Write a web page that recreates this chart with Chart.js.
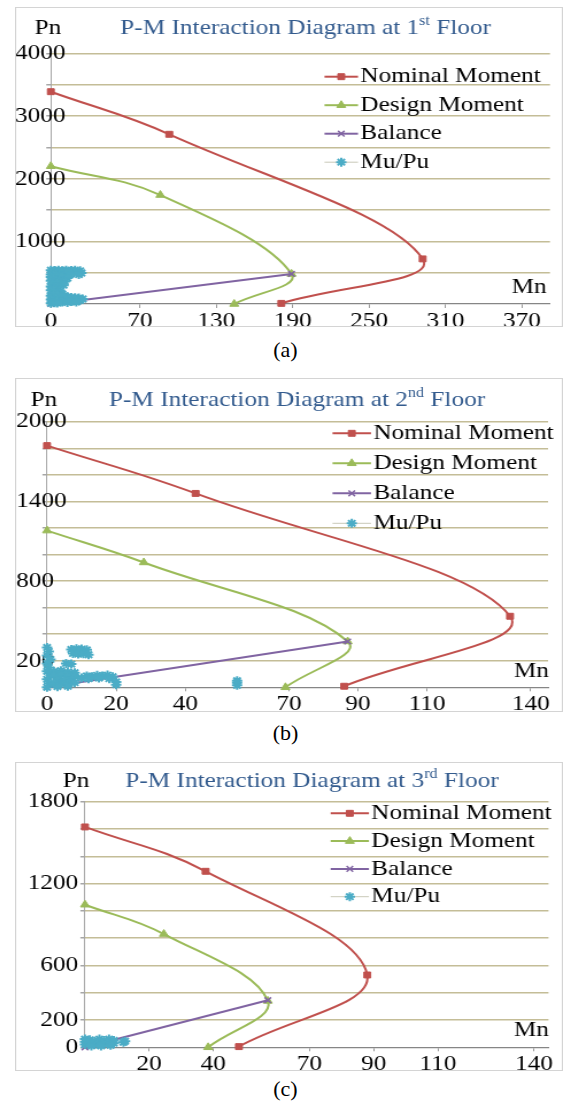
<!DOCTYPE html>
<html>
<head>
<meta charset="utf-8">
<script src="https://cdn.jsdelivr.net/npm/chart.js@4.4.1/dist/chart.umd.min.js"></script>
<style>
  html, body { margin: 0; padding: 0; background: #fff; }
  body { width: 571px; height: 1104px; position: relative; overflow: hidden;
         font-family: 'Liberation Serif', 'Times New Roman', serif; }
  canvas { position: absolute; left: 15px; transform-origin: 0 0; transform: scaleX(1.1488); }
  .cap { position: absolute; left: 0; width: 571px; text-align: center;
         font-size: 22px; line-height: 24px; color: #000; }
</style>
</head>
<body>
<canvas id="chartA" width="477" height="320" style="top:7px;width:477px;height:320px"></canvas>
<div class="cap" style="top:338px">(a)</div>
<canvas id="chartB" width="477" height="334" style="top:378px;width:477px;height:334px"></canvas>
<div class="cap" style="top:721px">(b)</div>
<canvas id="chartC" width="477" height="309" style="top:762px;width:477px;height:309px"></canvas>
<div class="cap" style="top:1077px">(c)</div>

<script>
// ---------------- DATA ----------------
const seriesNames = ['Nominal Moment', 'Design Moment', 'Balance', 'Mu/Pu'];

// (a) 1st floor
const titleA = ['P-M Interaction Diagram at 1', 'st', ' Floor'];
const xTickLabelsA = ['0', '70', '130', '190', '250', '310', '370'];
const yTickLabelsA = ['1000', '2000', '3000', '4000'];
const nominalMnA = [0, 93, 292, 181];
const nominalPnA = [3390, 2710, 720, 10];
const designMnA = [0, 86, 189, 144];
const designPnA = [2200, 1740, 480, 0];
const balanceMnA = [0, 189];
const balancePnA = [0, 480];
const muA = [0, 3, 6, 9, 12, 16, 19, 23, 1, 5, 8, 11, 14, 18, 21, 24, 0, 4, 7, 15, 22,
             0, 2, 0, 3, 1, 0, 2, 0, 3, 1, 0, 2, 0, 1, 0, 3,
             9, 13, 7, 11, 6, 10,
             5, 4, 7, 5, 9, 6, 11, 8, 13, 16, 19, 22, 25, 23, 19, 14, 10, 6, 9, 13, 5, 16, 20];
const puA = [540, 535, 540, 530, 540, 535, 540, 530, 505, 500, 510, 500, 505, 500, 505, 495, 470, 475, 465, 470, 470,
             430, 400, 370, 340, 310, 280, 250, 220, 190, 160, 130, 100, 70, 40, 10, 20,
             420, 415, 385, 360, 330, 300,
             270, 235, 210, 180, 160, 140, 130, 110, 115, 105, 100, 95, 80, 60, 55, 60, 70, 50, 30, 25, 15, 40, 30];

// (b) 2nd floor
const titleB = ['P-M Interaction Diagram at 2', 'nd', ' Floor'];
const xTickLabelsB = ['0', '20', '40', '70', '90', '110', '140'];
const yTickLabelsB = ['200', '800', '1400', '2000'];
const nominalMnB = [0, 43, 134, 86];
const nominalPnB = [1820, 1460, 535, 8];
const designMnB = [0, 28, 87, 69];
const designPnB = [1180, 940, 345, 0];
const balanceMnB = [0, 87];
const balancePnB = [0, 345];
const muB = [0, 0.5, 0, 1, 0, 0.5, 0, 1, 0, 0.5, 0,
             2, 4, 6, 8, 2, 4, 6, 8, 3, 5, 7, 2, 4, 6, 8, 3, 6,
             7, 8.5, 10, 11.5, 7.5, 9, 10.5, 12,
             5.5, 7,
             10, 11.5, 13, 14.5, 16, 17.5, 19, 12, 15, 18,
             20, 20,
             55, 55, 55];
const puB = [300, 270, 240, 210, 180, 150, 120, 90, 60, 30, 0,
             120, 125, 115, 110, 90, 95, 85, 80, 60, 55, 50, 30, 25, 20, 35, 5, 8,
             285, 290, 288, 282, 255, 250, 252, 245,
             180, 175,
             70, 85, 80, 90, 85, 92, 80, 65, 70, 65,
             40, 20,
             15, 35, 50];

// (c) 3rd floor
const titleC = ['P-M Interaction Diagram at 3', 'rd', ' Floor'];
const xTickLabelsC = ['20', '40', '70', '90', '110', '140'];
const yTickLabelsC = ['0', '200', '600', '1200', '1800'];
const nominalMnC = [0, 37.6, 88, 48];
const nominalPnC = [1615, 1290, 530, 5];
const designMnC = [0, 24.6, 57, 38.4];
const designPnC = [1045, 830, 340, 0];
const balanceMnC = [0, 57];
const balancePnC = [0, 345];
const muC = [0, 0, 0, 1.5, 1.5, 3, 3, 4.5, 4.5, 6, 6, 7.5, 7.5, 9, 9, 2, 5, 8, 12, 12.5];
const puC = [20, 40, 60, 30, 55, 20, 45, 35, 60, 25, 50, 40, 60, 30, 50, 10, 10, 15, 37, 45];

// ---------------- STYLE ----------------
const FONT = "'Liberation Serif', 'Times New Roman', serif";
const RED = '#C0504D', GREEN = '#9BBB59', PURPLE = '#8064A2', CYAN = '#4BACC6';
const GRID = '#C4BD97', TITLE_COLOR = '#335B8E';

const pts = (xs, ys) => xs.map((x, i) => ({ x: x, y: ys[i] }));

const decor = {
  id: 'decor',
  afterDraw(chart, args, o) {
    const { ctx, chartArea: ca } = chart;
    ctx.save();
    ctx.strokeStyle = '#D4D4D4'; ctx.lineWidth = 1;
    ctx.strokeRect(0.5, 0.5, chart.width - 1, chart.height - 1);
    ctx.textBaseline = 'middle';
    const big = o.fontSize + 'px ' + FONT, small = Math.round(o.fontSize * 0.62) + 'px ' + FONT;
    // axis names
    ctx.fillStyle = '#000'; ctx.font = big; ctx.textAlign = 'center';
    ctx.fillText(o.yName, o.yNameX, ca.top - o.titleDy);
    ctx.textAlign = 'right';
    ctx.fillText(o.xName, o.xNameX, ca.bottom - o.xNameDy);
    // title with superscript
    ctx.font = big;
    const w1 = ctx.measureText(o.titleMain).width, w3 = ctx.measureText(o.titleRest).width;
    ctx.font = small;
    const w2 = ctx.measureText(o.titleSup).width;
    let x = o.titleX - (w1 + w2 + w3) / 2;
    const ty = ca.top - o.titleDy;
    ctx.fillStyle = TITLE_COLOR; ctx.textAlign = 'left';
    ctx.font = big; ctx.fillText(o.titleMain, x, ty); x += w1;
    ctx.font = small; ctx.fillText(o.titleSup, x, ty - 7); x += w2;
    ctx.font = big; ctx.fillText(o.titleRest, x, ty);
    // legend
    chart.data.datasets.forEach((ds, i) => {
      const y = ca.top + o.legendTop + i * o.legendGap;
      ctx.strokeStyle = ds.showLine ? ds.borderColor : '#C9C9B8';
      ctx.lineWidth = ds.showLine ? 2 : 1;
      ctx.beginPath(); ctx.moveTo(o.legendX0, y); ctx.lineTo(o.legendX1, y); ctx.stroke();
      ctx.fillStyle = ds.pointBackgroundColor; ctx.strokeStyle = ds.pointBorderColor;
      ctx.lineWidth = ds.pointBorderWidth;
      Chart.helpers.drawPoint(ctx, { pointStyle: ds.pointStyle, radius: ds.pointRadius, rotation: 0,
        borderWidth: ds.pointBorderWidth }, (o.legendX0 + o.legendX1) / 2, y);
      ctx.fillStyle = '#000'; ctx.font = big; ctx.textAlign = 'left';
      ctx.fillText(ds.label, o.legendX1 + 2, y);
    });
    ctx.restore();
  }
};

function makeChart(id, c) {
  const xVals = c.xLabels.map(Number);
  const tickFont = { family: FONT, size: c.fontSize };
  return new Chart(document.getElementById(id), {
    type: 'scatter',
    data: {
      datasets: [
        { label: seriesNames[0], data: pts(c.nomX, c.nomY), showLine: true, tension: 0.4, order: 3,
          borderColor: RED, borderWidth: 2, pointStyle: 'rect', pointRadius: 4.2,
          pointBackgroundColor: RED, pointBorderColor: RED, pointBorderWidth: 1, clip: false },
        { label: seriesNames[1], data: pts(c.desX, c.desY), showLine: true, tension: 0.4, order: 2,
          borderColor: GREEN, borderWidth: 2, pointStyle: 'triangle', pointRadius: 4.5,
          pointBackgroundColor: GREEN, pointBorderColor: GREEN, pointBorderWidth: 1, clip: false },
        { label: seriesNames[2], data: pts(c.balX, c.balY), showLine: true, tension: 0, order: 1,
          borderColor: PURPLE, borderWidth: 2, pointStyle: 'crossRot', pointRadius: 4,
          pointBackgroundColor: PURPLE, pointBorderColor: PURPLE, pointBorderWidth: 1.5, clip: false },
        { label: seriesNames[3], data: pts(c.muX, c.muY), showLine: false, order: 0,
          borderColor: CYAN, pointStyle: 'star', pointRadius: 4.5,
          pointBackgroundColor: CYAN, pointBorderColor: CYAN, pointBorderWidth: 2, clip: false }
      ]
    },
    options: {
      responsive: false, animation: false, devicePixelRatio: 1, events: [],
      layout: { padding: { left: c.padL, top: c.padT, right: c.padR, bottom: 0 } },
      plugins: {
        legend: { display: false }, tooltip: { enabled: false }, title: { display: false },
        decor: c.decor
      },
      scales: {
        x: {
          type: 'linear', min: 0, max: c.xMax,
          afterFit: s => { s.height = c.xH; },
          afterBuildTicks: s => { s.ticks = xVals.map(v => ({ value: v })); },
          ticks: { callback: (v, i) => c.xLabels[i], font: tickFont, color: '#000',
                   padding: 0, autoSkip: false, maxRotation: 0 },
          grid: { drawOnChartArea: false, drawTicks: true, tickLength: 4, color: '#9A9A9A' },
          border: { display: true, color: '#868686', width: 1.3 }
        },
        y: {
          type: 'linear', min: 0, max: c.yMax,
          afterFit: s => { s.width = c.yW; },
          ticks: { stepSize: c.yStep, font: tickFont, color: '#000', padding: c.yPad,
                   mirror: c.yMirror, crossAlign: 'near', autoSkip: false,
                   callback: v => (c.yLabels.indexOf(String(v)) >= 0 ? String(v) : '') },
          grid: { color: ctx => (ctx.tick && ctx.tick.value === 0 ? 'rgba(0,0,0,0)' : GRID),
                  lineWidth: 1.5, drawTicks: true, tickLength: 4, tickColor: '#A6A6A6' },
          border: { display: true, color: '#A6A6A6', width: 1 }
        }
      }
    },
    plugins: [decor]
  });
}

makeChart('chartA', {
  nomX: nominalMnA, nomY: nominalPnA, desX: designMnA, desY: designPnA,
  balX: balanceMnA, balY: balancePnA, muX: muA, muY: puA,
  xLabels: xTickLabelsA, yLabels: yTickLabelsA,
  xMax: 392, yMax: 4000, yStep: 500, fontSize: 22,
  padL: 0, padT: 46.5, padR: 11.3, yW: 31.2, xH: 23, yPad: -31.2, yMirror: true,
  decor: { fontSize: 22, titleMain: titleA[0], titleSup: titleA[1], titleRest: titleA[2],
           titleX: 253, titleDy: 25.2, yName: 'Pn', yNameX: 28.7, xName: 'Mn', xNameX: 462.7, xNameDy: 16.7,
           legendX0: 269.4, legendX1: 298.6, legendTop: 23.2, legendGap: 28.5 }
});

makeChart('chartB', {
  nomX: nominalMnB, nomY: nominalPnB, desX: designMnB, desY: designPnB,
  balX: balanceMnB, balY: balancePnB, muX: muB, muY: puB,
  xLabels: xTickLabelsB, yLabels: yTickLabelsB,
  xMax: 145, yMax: 2000, yStep: 200, fontSize: 22,
  padL: 0, padT: 43.7, padR: 13, yW: 27.9, xH: 24.7, yPad: -27, yMirror: true,
  decor: { fontSize: 22, titleMain: titleB[0], titleSup: titleB[1], titleRest: titleB[2],
           titleX: 245.5, titleDy: 21.7, yName: 'Pn', yNameX: 25.2, xName: 'Mn', xNameX: 464.8, xNameDy: 15.6,
           legendX0: 276.4, legendX1: 309.9, legendTop: 11.6, legendGap: 30 }
});

makeChart('chartC', {
  nomX: nominalMnC, nomY: nominalPnC, desX: designMnC, desY: designPnC,
  balX: balanceMnC, balY: balancePnC, muX: muC, muY: puC,
  xLabels: xTickLabelsC, yLabels: yTickLabelsC,
  xMax: 144.5, yMax: 1800, yStep: 200, fontSize: 22,
  padL: 0, padT: 39.7, padR: 12.6, yW: 60.9, xH: 23.7, yPad: 1.8, yMirror: false,
  decor: { fontSize: 22, titleMain: titleC[0], titleSup: titleC[1], titleRest: titleC[2],
           titleX: 258.5, titleDy: 20, yName: 'Pn', yNameX: 53.1, xName: 'Mn', xNameX: 464.8, xNameDy: 17.3,
           legendX0: 274.8, legendX1: 308.1, legendTop: 11.6, legendGap: 27.8 }
});
</script>
</body>
</html>
